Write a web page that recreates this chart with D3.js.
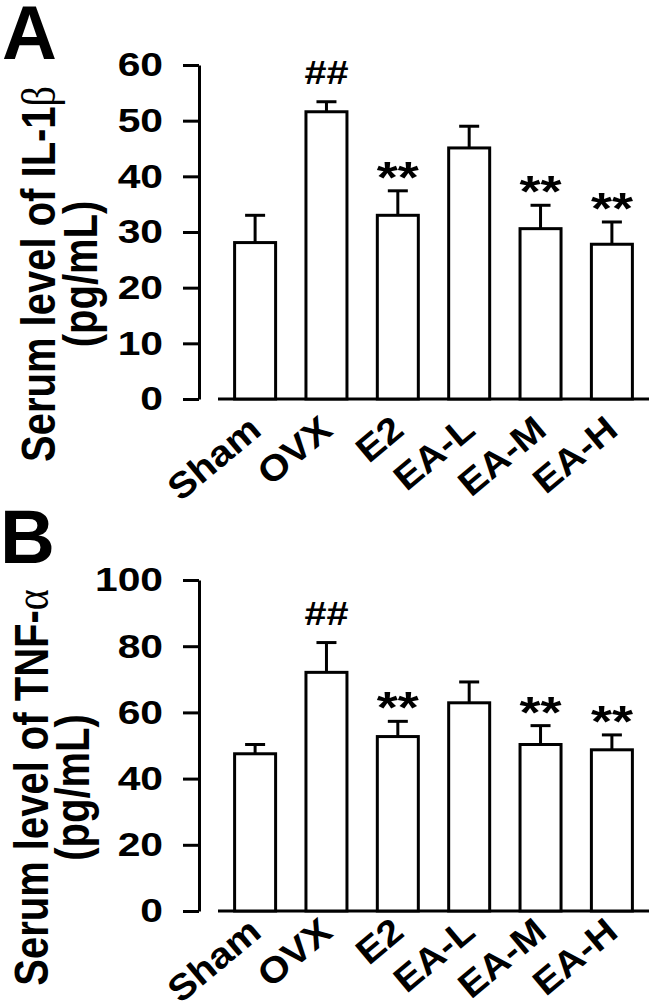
<!DOCTYPE html>
<html>
<head>
<meta charset="utf-8">
<script src="https://cdn.jsdelivr.net/npm/d3@7"></script>
<style>
  html, body { margin: 0; padding: 0; background: #fff; }
  svg { display: block; }
  text { font-family: "Liberation Sans", Arial, sans-serif; font-weight: bold; fill: #000; }
</style>
</head>
<body>
<script>
// ---- data ----
const categories = ["Sham", "OVX", "E2", "EA-L", "EA-M", "EA-H"];
const il1bMean = [28.1, 51.6, 33.0, 45.1, 30.6, 27.8];
const il1bErr  = [4.9, 1.8, 4.4, 3.9, 4.2, 4.0];
const il1bMarks = ["", "##", "**", "", "**", "**"];
const il1bTicks = [0, 10, 20, 30, 40, 50, 60];

const tnfMean = [47.5, 72.1, 52.7, 62.9, 50.3, 48.7];
const tnfErr  = [2.8, 9.0, 4.6, 6.3, 5.7, 4.5];
const tnfMarks = ["", "##", "**", "", "**", "**"];
const tnfTicks = [0, 20, 40, 60, 80, 100];

const W = 651, H = 1005;
const SX = 1.2;
const svg = d3.select("body").append("svg").attr("width", W).attr("height", H);

function panel(cfg) {
  const g = svg.append("g");
  const y = d3.scaleLinear().domain(cfg.domain).range(cfg.yRange);
  const x = d3.scalePoint().domain(categories).range([218, 649]).padding(0.52);
  const y0 = y(0);

  g.append("text").attr("x", cfg.letterX).attr("y", cfg.letterY)
    .attr("font-size", 76).text(cfg.letter);

  const ax = g.append("g").attr("transform", "translate(199,0)")
    .call(d3.axisLeft(y).tickValues(cfg.ticks).tickSizeInner(16).tickSizeOuter(0).tickPadding(20));
  ax.select(".domain").attr("stroke", "#000").attr("stroke-width", 3);
  ax.selectAll(".tick line").attr("stroke", "#000").attr("stroke-width", 3);
  ax.selectAll(".tick text")
    .attr("font-size", 34).attr("font-family", "Liberation Sans, Arial, sans-serif")
    .attr("font-weight", "bold").attr("fill", "#000")
    .attr("x", -36 / SX).attr("transform", `scale(${SX},1)`);

  g.append("line").attr("x1", x.range()[0]).attr("x2", x.range()[1])
    .attr("y1", y0).attr("y2", y0).attr("stroke", "#000").attr("stroke-width", 3);

  const bw = 41;
  const data = categories.map((c, i) => ({ c, m: cfg.mean[i], e: cfg.err[i], mark: cfg.marks[i] }));
  g.selectAll(".eb").data(data).join("line")
    .attr("x1", d => x(d.c)).attr("x2", d => x(d.c))
    .attr("y1", d => y(d.m)).attr("y2", d => y(d.m + d.e))
    .attr("stroke", "#000").attr("stroke-width", 3);
  g.selectAll(".cap").data(data).join("line")
    .attr("x1", d => x(d.c) - 10).attr("x2", d => x(d.c) + 10)
    .attr("y1", d => y(d.m + d.e)).attr("y2", d => y(d.m + d.e))
    .attr("stroke", "#000").attr("stroke-width", 3);
  g.selectAll(".bar").data(data).join("rect")
    .attr("x", d => x(d.c) - bw / 2).attr("width", bw)
    .attr("y", d => y(d.m)).attr("height", d => y0 - y(d.m))
    .attr("fill", "#fff").attr("stroke", "#000").attr("stroke-width", 3);

  g.selectAll(".mark").data(data.filter(d => d.mark)).join("text")
    .attr("text-anchor", "middle")
    .attr("font-size", d => d.mark === "##" ? 33 : 45)
    .attr("transform", d => {
      const top = y(d.m + d.e);
      const by = d.mark === "##" ? top - 18 : top + 2;
      return `translate(${x(d.c)},${by}) scale(${SX},1)`;
    })
    .text(d => d.mark);

  g.selectAll(".xl").data(categories).join("text")
    .attr("text-anchor", "end").attr("font-size", 36)
    .attr("transform", c => `translate(${x(c) + 8},${y0 + cfg.labelDy}) rotate(-40) scale(1.1,1)`)
    .text(c => c);

  const cy = (cfg.yRange[0] + cfg.yRange[1]) / 2 + 42;
  const t1 = g.append("text").attr("text-anchor", "middle").attr("font-size", 40)
    .attr("transform", `translate(${cfg.titleX1},${cy}) scale(${SX},1) rotate(-90)`);
  t1.append("tspan").text(cfg.title);
  t1.append("tspan").attr("font-family", "Liberation Serif, DejaVu Serif, serif")
    .attr("font-weight", "normal").text(cfg.greek);
  g.append("text").attr("text-anchor", "middle").attr("font-size", 40)
    .attr("transform", `translate(${cfg.titleX2},${cy}) scale(${SX},1) rotate(-90)`)
    .text("(pg/mL)");
}

panel({
  letter: "A", letterX: 2, letterY: 59,
  domain: [0, 60], yRange: [399, 65], ticks: il1bTicks,
  mean: il1bMean, err: il1bErr, marks: il1bMarks,
  labelDy: 34, title: "Serum level of IL-1", greek: "β",
  titleX1: 55, titleX2: 97
});
panel({
  letter: "B", letterX: 0, letterY: 563,
  domain: [0, 100], yRange: [911, 580], ticks: tnfTicks,
  mean: tnfMean, err: tnfErr, marks: tnfMarks,
  labelDy: 24, title: "Serum level of TNF-", greek: "α",
  titleX1: 48, titleX2: 89
});
</script>
</body>
</html>
